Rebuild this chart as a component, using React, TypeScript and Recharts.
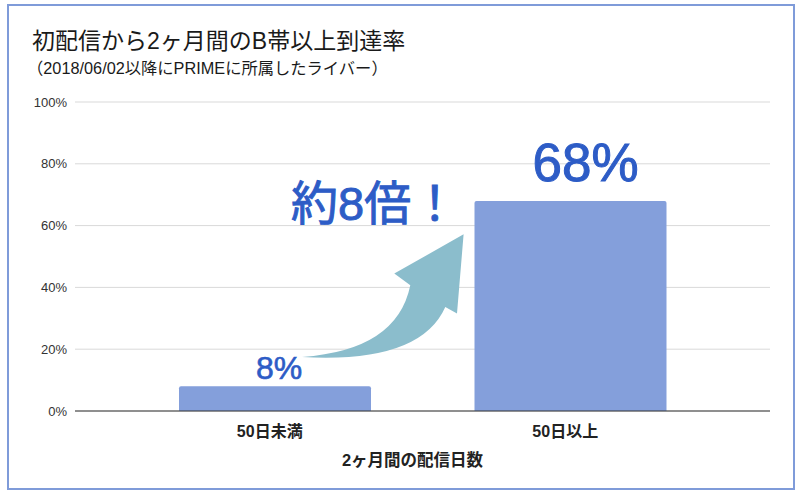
import React from 'react';
import { BarChart, Bar, XAxis, YAxis, CartesianGrid, LabelList } from 'recharts';

const categories = ['50日未満', '50日以上'];
const rates = [8, 68];
const yTicks = [0, 20, 40, 60, 80, 100];
const titleText = '初配信から2ヶ月間のB帯以上到達率';
const subtitleText = '（2018/06/02以降にPRIMEに所属したライバー）';
const xAxisTitle = '2ヶ月間の配信日数';
const calloutText = '約8倍！';

const data = categories.map((c, i) => ({ name: c, rate: rates[i] }));

const FONT = '"Liberation Sans", "Noto Sans CJK JP", sans-serif';
const BLUE = '#2d5cc6';
const BAR = '#849fdb';
const ARROW = '#8bbdcc';

const ValueLabel = (props: any) => {
  const { x, y, width, height, value, index } = props;
  const cx = Number(x) + Number(width) / 2;
  const top = Number(y);
  const yb = Number(y) + Number(height);
  if (index === 0) {
    const P = (dx: number, dy: number) => `${cx + dx} ${yb - dy}`;
    const d = `M ${P(27, 54)} Q ${P(122, 60.7)} ${P(135.3, 125.7)} L ${P(119.3, 137.4)} L ${P(188.6, 176.7)} L ${P(182, 97.4)} L ${P(170.3, 104)} Q ${P(145.3, 47.4)} ${P(27, 54)} Z`;
    return (
      <g>
        <path d={d} fill={ARROW} />
        <text x={cx + 4} y={top - 7.6} textAnchor="middle" fontSize={32} fill={BLUE} stroke={BLUE} strokeWidth={0.6} fontFamily={FONT}>
          {`${value}%`}
        </text>
        <text x={cx + 16} y={yb - 191} textAnchor="start" fontSize={47} fill={BLUE} stroke={BLUE} strokeWidth={0.9} fontFamily={FONT}>
          {calloutText}
        </text>
      </g>
    );
  }
  return (
    <text x={cx + 15} y={top - 20} textAnchor="middle" fontSize={53} fill={BLUE} stroke={BLUE} strokeWidth={1} fontFamily={FONT}>
      {`${value}%`}
    </text>
  );
};

export default function App() {
  return (
    <div style={{ position: 'fixed', left: 0, top: 0, width: 800, height: 496, background: '#ffffff', overflow: 'hidden' }}>
      <div
        style={{
          position: 'absolute',
          left: 7,
          top: 4,
          width: 784,
          height: 482,
          border: '2px solid #7f9bd9',
          background: '#fff',
        }}
      />
      <div style={{ position: 'absolute', left: 0, top: 0 }}>
        <BarChart
          width={800}
          height={496}
          data={data}
          margin={{ top: 102, right: 30, left: 15, bottom: 0 }}
          barCategoryGap={52}
        >
          <CartesianGrid vertical={false} stroke="#d9d9d9" />
          <XAxis
            dataKey="name"
            height={85}
            padding={{ left: 52, right: 52 }}
            axisLine={{ stroke: '#333' }}
            tickLine={false}
            tickMargin={9}
            tick={{ fill: '#222', fontSize: 16, fontWeight: 700, fontFamily: FONT, dx: -5 } as any}
            label={{
              value: xAxisTitle,
              position: 'insideBottom',
              offset: 30,
              dx: -10,
              style: { fill: '#222', fontSize: 16.5, fontWeight: 700, fontFamily: FONT },
            } as any}
          />
          <YAxis
            width={60}
            domain={[0, 100]}
            ticks={yTicks}
            axisLine={false}
            tickLine={false}
            tickFormatter={(v: number) => `${v}%`}
            tick={{ fill: '#333', fontSize: 13, fontFamily: FONT }}
          />
          <Bar dataKey="rate" fill={BAR} radius={[2, 2, 0, 0]} isAnimationActive={false}>
            <LabelList dataKey="rate" content={ValueLabel} />
          </Bar>
        </BarChart>
      </div>
      <svg width={800} height={496} style={{ position: 'absolute', left: 0, top: 0, pointerEvents: 'none' }}>
        <text x={32} y={49} fontSize={23} fill="#1a1a1a" fontFamily={FONT}>
          {titleText}
        </text>
        <text x={27} y={74} fontSize={16.3} fill="#1a1a1a" fontFamily={FONT}>
          {subtitleText}
        </text>
      </svg>
    </div>
  );
}
